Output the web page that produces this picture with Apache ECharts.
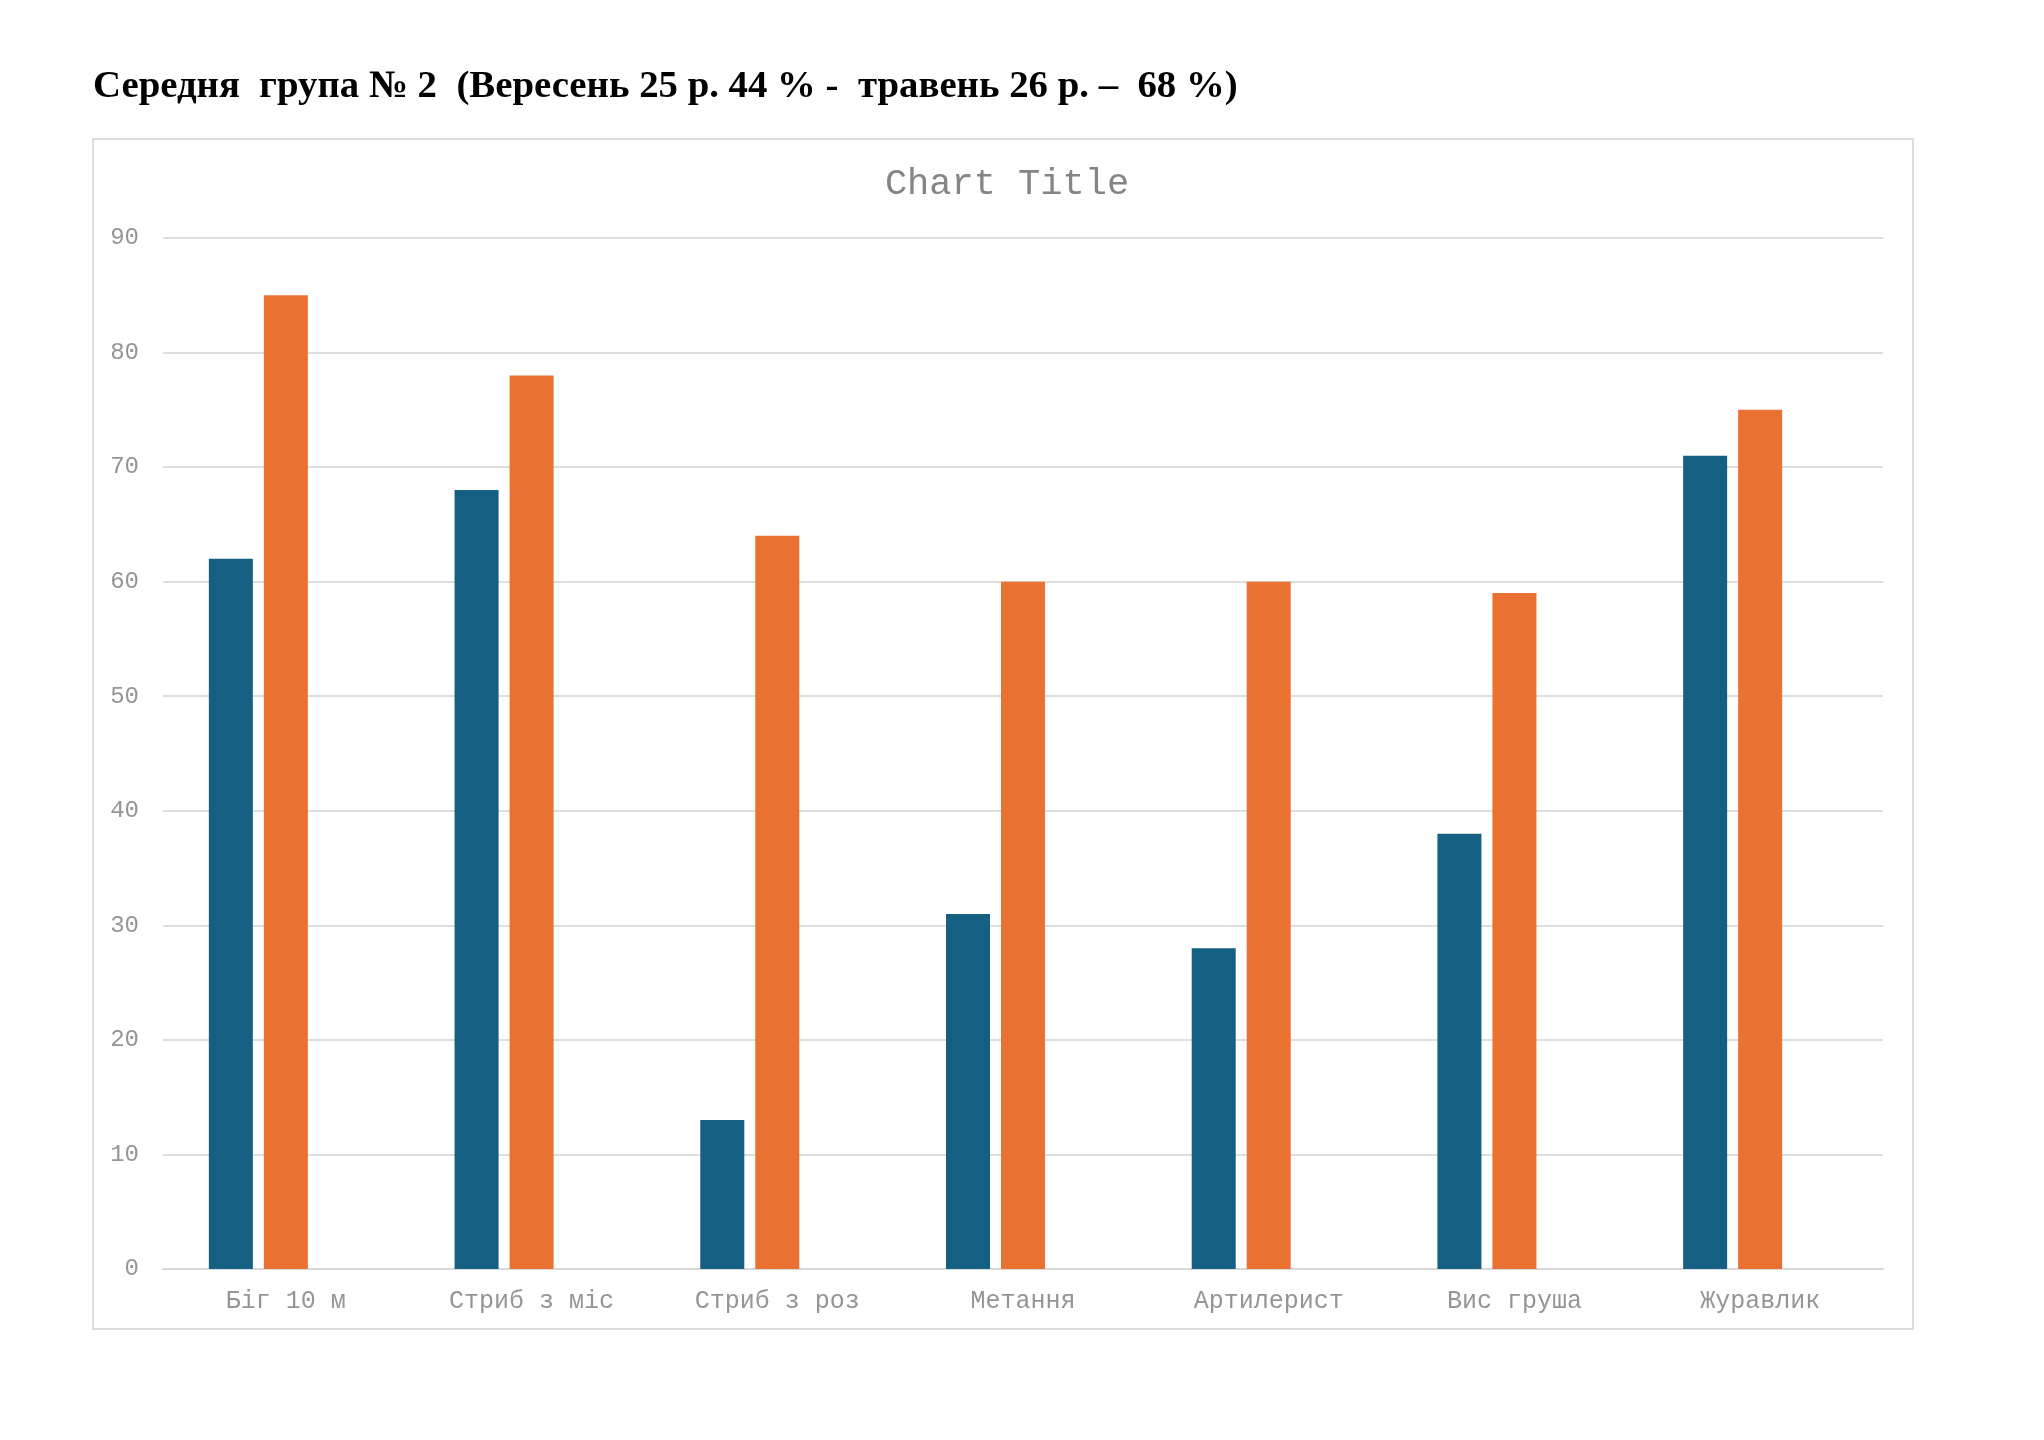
<!DOCTYPE html>
<html>
<head>
<meta charset="utf-8">
<script src="https://cdn.jsdelivr.net/npm/echarts@6/dist/echarts.min.js"></script>
<style>
html,body{margin:0;padding:0;background:#fff;}
#chart{width:2044px;height:1440px;}
</style>
</head>
<body>
<div id="chart"></div>
<script>
const pageTitle = 'Середня  група № 2  (Вересень 25 р. 44 % -  травень 26 р. –  68 %)';
const chartTitle = 'Chart Title';
const categories = ['Біг 10 м', 'Стриб з міс', 'Стриб з роз', 'Метання', 'Артилерист', 'Вис груша', 'Журавлик'];
const septemberValues = [62, 68, 13, 31, 28, 38, 71];
const mayValues = [85, 78, 64, 60, 60, 59, 75];
const emptyValues = ['-', '-', '-', '-', '-', '-', '-'];
const yTicks = { min: 0, max: 90, interval: 10 };

const chart = echarts.init(document.getElementById('chart'), null, { renderer: 'canvas' });
const mono = '"Liberation Mono", "DejaVu Sans Mono", monospace';
chart.setOption({
  backgroundColor: '#ffffff',
  animation: false,
  title: [
    {
      text: pageTitle,
      left: 88, top: 62,
      textStyle: { fontFamily: '"Liberation Serif", "Times New Roman", serif', fontWeight: 'bold', fontSize: 38.8, color: '#000' }
    },
    {
      text: chartTitle,
      left: 1002, top: 161, textAlign: 'center',
      textStyle: { fontFamily: mono, fontWeight: 'normal', fontSize: 37, color: '#858585' }
    }
  ],
  graphic: [{
    type: 'rect', z: -1,
    shape: { x: 93, y: 139, width: 1820, height: 1190 },
    style: { fill: 'none', stroke: '#dcdcdc', lineWidth: 2 }
  }],
  grid: { left: 163, right: 161, top: 238, bottom: 171, containLabel: false },
  xAxis: {
    type: 'category',
    data: categories,
    axisLine: { show: true, lineStyle: { color: '#d9d9d9', width: 2 } },
    axisTick: { show: false },
    axisLabel: { fontFamily: mono, fontSize: 25, color: '#959595', margin: 20, interval: 0 }
  },
  yAxis: {
    type: 'value',
    min: yTicks.min, max: yTicks.max, interval: yTicks.interval,
    axisLine: { show: false },
    axisTick: { show: false },
    splitLine: { lineStyle: { color: '#dedede', width: 2 } },
    axisLabel: { fontFamily: mono, fontSize: 24, color: '#959595', margin: 24 }
  },
  series: [
    { name: 'Вересень', type: 'bar', data: septemberValues, barWidth: 44, barGap: '25%', itemStyle: { color: '#156082' } },
    { name: 'Травень', type: 'bar', data: mayValues, barWidth: 44, barGap: '25%', itemStyle: { color: '#E97132' } },
    { name: 'Ряд 3', type: 'bar', data: emptyValues, barWidth: 44, barGap: '25%', itemStyle: { color: '#196B24' } }
  ]
});
</script>
</body>
</html>
